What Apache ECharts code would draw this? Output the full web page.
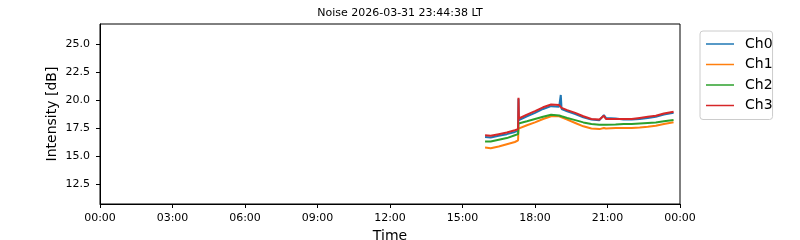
<!DOCTYPE html>
<html>
<head>
<meta charset="utf-8">
<script src="https://cdn.jsdelivr.net/npm/echarts@6/dist/echarts.min.js"></script>
<style>
html,body{margin:0;padding:0;background:#fff;}
#chart{width:800px;height:240px;}
</style>
</head>
<body>
<div id="chart"></div>
<script>
const titleText = "Noise 2026-03-31 23:44:38 LT";
const seriesNames = ["Ch0", "Ch1", "Ch2", "Ch3"];
const colors = ["#1f77b4", "#ff7f0e", "#2ca02c", "#d62728"];
const xTickLabels = ["00:00","03:00","06:00","09:00","12:00","15:00","18:00","21:00","00:00"];
const yTicks = [12.5, 15.0, 17.5, 20.0, 22.5, 25.0];

const times = ["15:56","16:10","16:30","16:50","17:10","17:18","17:19","17:20","17:40","18:00","18:20","18:40","19:00","19:04","19:06","19:20","19:40","20:00","20:20","20:40","20:51","20:56","21:20","21:40","22:00","22:20","22:40","23:00","23:20","23:44"];
const ch0 = [16.70,16.65,16.80,16.95,17.15,17.25,20.10,18.20,18.55,18.85,19.20,19.45,19.40,20.45,19.20,19.00,18.75,18.45,18.25,18.20,18.65,18.40,18.35,18.25,18.25,18.30,18.40,18.50,18.70,18.87];
const ch1 = [15.75,15.70,15.85,16.05,16.25,16.40,17.45,17.50,17.75,18.00,18.30,18.55,18.55,18.50,18.45,18.25,17.95,17.65,17.45,17.40,17.50,17.45,17.50,17.50,17.50,17.55,17.62,17.70,17.85,18.02];
const ch2 = [16.30,16.30,16.45,16.60,16.85,16.95,17.90,17.90,18.10,18.30,18.50,18.68,18.62,18.60,18.55,18.40,18.20,18.00,17.85,17.78,17.80,17.80,17.82,17.85,17.85,17.90,17.95,18.00,18.10,18.22];
const ch3 = [16.85,16.80,16.95,17.10,17.30,17.40,20.20,18.35,18.70,19.00,19.35,19.60,19.55,19.50,19.30,19.10,18.85,18.55,18.30,18.25,18.60,18.30,18.30,18.30,18.30,18.40,18.50,18.60,18.80,18.95];

const chValues = [ch0, ch1, ch2, ch3];
function toMin(t){ const p = t.split(":"); return (+p[0])*60 + (+p[1]); }

const chart = echarts.init(document.getElementById('chart'), null, {renderer:'canvas'});
const font = "DejaVu Sans";
chart.setOption({
  animation: false,
  backgroundColor: '#fff',
  title: {
    text: titleText, left: 'center', top: 3,
    textStyle: {fontFamily: font, fontSize: 11, fontWeight: 'normal', color: '#000'}
  },
  legend: {
    orient: 'vertical', left: 700, top: 31,
    data: seriesNames,
    icon: 'rect',
    itemWidth: 28, itemHeight: 1.5, itemGap: 6.5,
    padding: [6, 0, 7, 6],
    backgroundColor: '#fff', borderColor: '#cccccc', borderWidth: 1, borderRadius: 3,
    textStyle: {fontFamily: font, fontSize: 14, color: '#000', padding: [0,0,0,6], lineHeight: 14, width: 24, overflow: 'none'}
  },
  grid: {left: 100, right: 120, top: 24, bottom: 36, show: true, borderColor: '#000', borderWidth: 1, backgroundColor: '#fff', containLabel: false, outerBoundsMode: 'none'},
  xAxis: {
    type: 'value', min: 0, max: 1440, interval: 180,
    name: 'Time', nameLocation: 'middle', nameGap: 25, nameMoveOverlap: false,
    nameTextStyle: {fontFamily: font, fontSize: 14, color: '#000', verticalAlign: 'top'},
    axisLine: {show: true, lineStyle: {color: '#000', width: 1}},
    axisTick: {show: true, length: 4, lineStyle: {color: '#000'}},
    axisLabel: {fontFamily: font, fontSize: 11, color: '#000', margin: 9,
      formatter: function(v){ return xTickLabels[Math.round(v/180)]; }},
    splitLine: {show: false}
  },
  yAxis: {
    type: 'value', min: 10.714, max: 26.786,
    name: 'Intensity [dB]', nameLocation: 'middle', nameGap: 41, nameMoveOverlap: false,
    nameTextStyle: {fontFamily: font, fontSize: 14, color: '#000'},
    axisLine: {show: true, lineStyle: {color: '#000', width: 1}},
    axisTick: {show: true, length: 4, lineStyle: {color: '#000'},
      customValues: yTicks},
    axisLabel: {fontFamily: font, fontSize: 11, color: '#000', margin: 10,
      customValues: yTicks,
      formatter: function(v){ return v.toFixed(1); }},
    splitLine: {show: false}
  },
  series: seriesNames.map(function(n, i){
    return {
      name: n, type: 'line', symbol: 'none', color: colors[i],
      lineStyle: {width: 2, color: colors[i]},
      data: times.map(function(t, j){ return [toMin(t), chValues[i][j]]; })
    };
  })
});
</script>
</body>
</html>
